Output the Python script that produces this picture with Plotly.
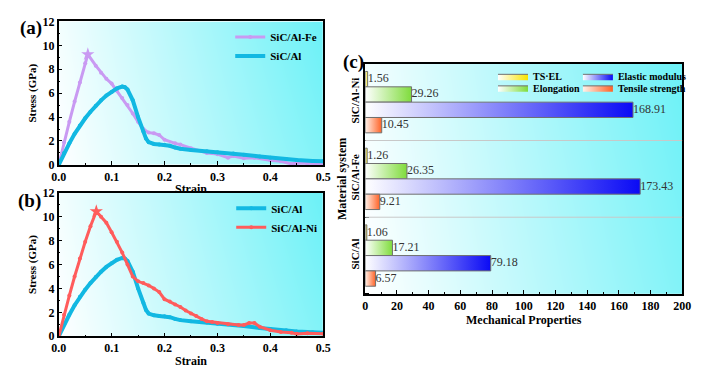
import plotly.graph_objects as go

# ---------------- data ----------------
# (a)/(b) stress-strain curves
strain_al = [0, 0.01, 0.02, 0.03, 0.04, 0.05, 0.06, 0.07, 0.08, 0.09, 0.10, 0.11, 0.12, 0.125, 0.13,
             0.14, 0.15, 0.16, 0.165, 0.17, 0.18, 0.19, 0.20, 0.21, 0.22, 0.23, 0.25, 0.28, 0.30,
             0.33, 0.35, 0.38, 0.40, 0.43, 0.45, 0.48, 0.50]
stress_al = [0, 1.0, 1.8, 2.6, 3.3, 3.9, 4.45, 4.95, 5.4, 5.8, 6.1, 6.4, 6.55, 6.5, 6.3,
             5.4, 4.0, 2.8, 2.2, 1.9, 1.75, 1.7, 1.68, 1.6, 1.45, 1.35, 1.25, 1.15, 1.05,
             0.95, 0.85, 0.7, 0.6, 0.5, 0.4, 0.33, 0.3]

strain_fe = [0, 0.01, 0.02, 0.03, 0.04, 0.05, 0.055, 0.07, 0.08, 0.09, 0.10, 0.11, 0.12, 0.13,
             0.14, 0.15, 0.16, 0.17, 0.18, 0.19, 0.20, 0.22, 0.23, 0.25, 0.28, 0.30, 0.32, 0.33,
             0.35, 0.37, 0.40, 0.42, 0.44, 0.45, 0.47, 0.50]
stress_fe = [0, 1.9, 3.6, 5.3, 6.9, 8.5, 9.25, 8.3, 7.7, 7.2, 6.8, 6.2, 5.6, 5.0,
             4.3, 3.6, 3.0, 2.7, 2.65, 2.5, 2.1, 1.8, 1.7, 1.4, 1.0, 0.9, 0.6, 0.75,
             0.55, 0.6, 0.38, 0.3, 0.08, 0.15, 0.12, 0.1]

strain_ni = [0, 0.01, 0.02, 0.03, 0.04, 0.05, 0.06, 0.071, 0.08, 0.09, 0.10, 0.11, 0.12, 0.13,
             0.14, 0.15, 0.16, 0.17, 0.18, 0.19, 0.20, 0.21, 0.22, 0.23, 0.24, 0.25, 0.26,
             0.27, 0.28, 0.29, 0.30, 0.32, 0.34, 0.35, 0.36, 0.37, 0.38, 0.40, 0.42, 0.44,
             0.45, 0.47, 0.50]
stress_ni = [0, 1.8, 3.4, 5.0, 6.5, 7.9, 9.2, 10.45, 10.0, 9.5, 8.7, 7.9, 7.0, 6.0,
             5.0, 4.6, 4.45, 4.25, 4.0, 3.7, 3.1, 2.9, 2.65, 2.45, 2.15, 1.9, 1.7,
             1.45, 1.25, 1.2, 1.1, 1.0, 0.95, 0.95, 1.1, 1.1, 0.8, 0.5, 0.35, 0.3,
             0.2, 0.25, 0.2]

# (c) mechanical properties
materials = ["SiC/Al", "SiC/Al-Fe", "SiC/Al-Ni"]
ts_el = [1.06, 1.26, 1.56]
elongation = [17.21, 26.35, 29.26]
elastic_modulus = [79.18, 173.43, 168.91]
tensile_strength = [6.57, 9.21, 10.45]

strain_ticks = [0, 0.1, 0.2, 0.3, 0.4, 0.5]
strain_ticktext = ["0.0", "0.1", "0.2", "0.3", "0.4", "0.5"]

# ---------------- style ----------------
SERIF = "Liberation Serif"
C_AL = "#12b8e2"
C_FE = "#c99af2"
C_NI = "#ff5c5c"
BG_SCALE = [[0, "#ffffff"], [1, "#6cf1f7"]]
BG_Z = [[0.0, 0.85], [0.08, 1.0]]

fig = go.Figure()


def add_bg(xa, ya, xr, yr):
    fig.add_trace(go.Heatmap(x=xr, y=yr, z=BG_Z, colorscale=BG_SCALE, zmin=0, zmax=1,
                             zsmooth="best", showscale=False, hoverinfo="skip",
                             xaxis=xa, yaxis=ya))


add_bg("x", "y", [0, 0.5], [0, 12])
add_bg("x2", "y2", [0, 0.5], [0, 12])
add_bg("x3", "y3", [0, 200], [-0.5, len(materials) - 0.5])


def add_curve(x, y, name, color, width, xa, ya, legend, star):
    fig.add_trace(go.Scatter(x=x, y=y, name=name, mode="lines+markers",
                             line=dict(color=color, width=width),
                             marker=dict(color=color, size=4),
                             xaxis=xa, yaxis=ya, legend=legend))
    if star:
        i = y.index(max(y))
        fig.add_trace(go.Scatter(x=[x[i]], y=[y[i]], mode="markers", showlegend=False,
                                 marker=dict(symbol="star", size=10, color=color),
                                 xaxis=xa, yaxis=ya))


# panel (a)
add_curve(strain_fe, stress_fe, "SiC/Al-Fe", C_FE, 3, "x", "y", "legend", True)
add_curve(strain_al, stress_al, "SiC/Al", C_AL, 4, "x", "y", "legend", False)
# panel (b)
add_curve(strain_al, stress_al, "SiC/Al", C_AL, 4, "x2", "y2", "legend2", False)
add_curve(strain_ni, stress_ni, "SiC/Al-Ni", C_NI, 3, "x2", "y2", "legend2", True)

# panel (c) gradient bars
series = [
    ("TS·EL", ts_el, 0.3, ["#ffffff", "#f7e400"], "legend3"),
    ("Elongation", elongation, 0.1, ["#ffffff", "#7fdc3c"], "legend4"),
    ("Elastic modulus", elastic_modulus, -0.1, ["#ffffff", "#0a0af5"], "legend5"),
    ("Tensile strength", tensile_strength, -0.3, ["#fff2ea", "#ff6226"], "legend6"),
]
HALF = 0.1
for name, vals, off, cols, leg in series:
    for g, v in enumerate(vals):
        yc = g + off
        fig.add_trace(go.Scatter(
            x=[0, v, v, 0, 0], y=[yc - HALF, yc - HALF, yc + HALF, yc + HALF, yc - HALF],
            mode="lines", fill="toself", name=name, legendgroup=name, legend=leg,
            showlegend=(g == 0),
            line=dict(color="#707070", width=1),
            fillgradient=dict(type="horizontal",
                              colorscale=[[0, cols[0]], [1, cols[1]]]),
            xaxis="x3", yaxis="y3", hoverinfo="skip"))
    fig.add_trace(go.Scatter(
        x=vals, y=[g + off for g in range(len(vals))], mode="text",
        text=[f"{v:.2f}" for v in vals], textposition="middle right",
        textfont=dict(family=SERIF, size=12, color="#333333"),
        showlegend=False, xaxis="x3", yaxis="y3", hoverinfo="skip"))

# group separators
for b in range(len(materials) - 1):
    fig.add_shape(type="line", xref="x3", yref="y3", x0=0, x1=200, y0=b + 0.5, y1=b + 0.5,
                  line=dict(color="#c8c8c8", width=1), layer="above")

# ---------------- layout ----------------
tickf = dict(family=SERIF, size=12, color="black", weight="bold")
ytitlef = dict(family=SERIF, size=11, color="black", weight="bold")
titlef = dict(family=SERIF, size=12, color="black", weight="bold")
legf = dict(family=SERIF, size=11, color="black", weight="bold")
legf_small = dict(family=SERIF, size=10, weight="bold", color="black")


def ax_common():
    return dict(showline=True, linecolor="black", linewidth=1.5, mirror=True,
                ticks="inside", ticklen=4, tickwidth=1.2, tickcolor="black",
                showgrid=False, zeroline=False, tickfont=tickf)


xa = ax_common()
xa.update(range=[0, 0.5], tickvals=strain_ticks, ticktext=strain_ticktext,
          minor=dict(dtick=0.05, tick0=0, ticks="inside", ticklen=2, tickcolor="black"))
ya = ax_common()
ya.update(range=[0, 12], dtick=2, minor=dict(dtick=1, ticks="inside", ticklen=2, tickcolor="black"))


def small_legend(xpx, ypx):
    return dict(x=xpx / 704, y=1 - ypx / 376, xanchor="left", yanchor="middle",
                bgcolor="rgba(0,0,0,0)", font=legf_small, itemwidth=30)


fig.update_layout(
    width=704, height=376, margin=dict(l=0, r=0, t=0, b=0),
    paper_bgcolor="white", plot_bgcolor="white",
    font=dict(family=SERIF, color="black"),
    xaxis=dict(**xa, domain=[52 / 704, 323 / 704], anchor="y",
               title=dict(text="Strain", font=titlef, standoff=2)),
    yaxis=dict(**ya, domain=[1 - 164 / 376, 1 - 15 / 376], anchor="x",
               title=dict(text="Stress (GPa)", font=ytitlef, standoff=4)),
    xaxis2=dict(**xa, domain=[52 / 704, 323 / 704], anchor="y2",
                title=dict(text="Strain", font=titlef, standoff=2)),
    yaxis2=dict(**ya, domain=[1 - 342 / 376, 1 - 193 / 376], anchor="x2",
                title=dict(text="Stress (GPa)", font=ytitlef, standoff=4)),
    xaxis3=dict(**ax_common(), domain=[366 / 704, 691 / 704], anchor="y3",
                range=[0, 200], dtick=20,
                minor=dict(dtick=10, ticks="inside", ticklen=2, tickcolor="black"),
                title=dict(text="Mechanical Properties", font=titlef, standoff=2)),
    yaxis3=dict(**{k: v for k, v in ax_common().items() if k not in ("ticks", "tickfont")},
                tickfont=legf,
                domain=[1 - 298 / 376, 1 - 59 / 376], anchor="x3",
                range=[-0.5, len(materials) - 0.5],
                tickvals=list(range(len(materials))), ticktext=materials,
                tickangle=-90, ticks="",
                minor=dict(tick0=0.5, dtick=1, ticks="inside", ticklen=4, tickcolor="black"),
                title=dict(text="Material system", font=titlef, standoff=0)),
    legend=dict(x=322 / 704, y=1 - 16 / 376, xanchor="right", yanchor="top",
                bgcolor="rgba(0,0,0,0)", font=legf, tracegroupgap=0),
    legend2=dict(x=322 / 704, y=1 - 194 / 376, xanchor="right", yanchor="top",
                 bgcolor="rgba(0,0,0,0)", font=legf, tracegroupgap=0),
    legend3=small_legend(497, 72),
    legend4=small_legend(497, 84),
    legend5=small_legend(584, 72),
    legend6=small_legend(584, 84),
    annotations=[
        dict(text="(a)", x=10 / 704, y=1 - 22 / 376, xref="paper", yref="paper",
             xanchor="left", yanchor="middle", showarrow=False,
             font=dict(family=SERIF, size=19, weight="bold", color="black")),
        dict(text="(b)", x=8 / 704, y=1 - 202 / 376, xref="paper", yref="paper",
             xanchor="left", yanchor="middle", showarrow=False,
             font=dict(family=SERIF, size=19, weight="bold", color="black")),
        dict(text="(c)", x=341 / 704, y=1 - 57 / 376, xref="paper", yref="paper",
             xanchor="left", yanchor="middle", showarrow=False,
             font=dict(family=SERIF, size=19, weight="bold", color="black")),
    ],
)

fig.write_html("out.html")
